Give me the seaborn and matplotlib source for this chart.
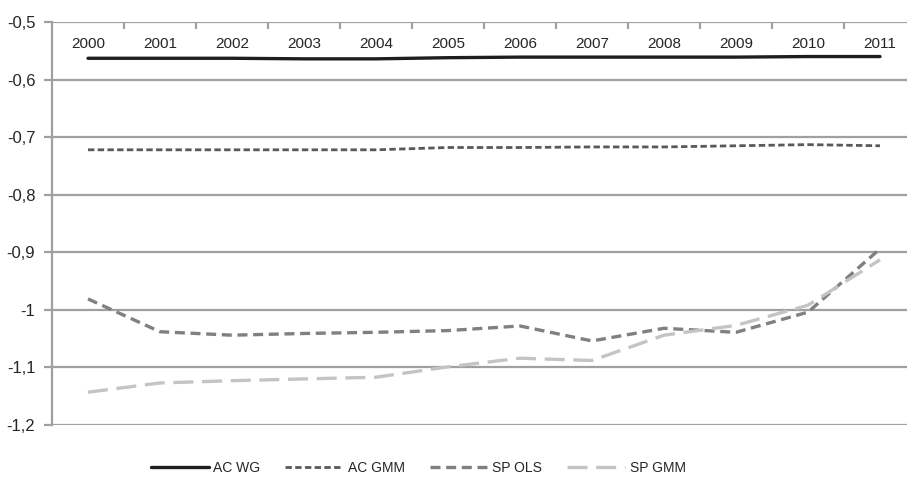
import matplotlib
matplotlib.use("Agg")
import matplotlib.pyplot as plt
import seaborn as sns
import pandas as pd
from matplotlib import font_manager as fm

years = ["2000", "2001", "2002", "2003", "2004", "2005", "2006", "2007", "2008", "2009", "2010", "2011"]
ac_wg = [-0.563, -0.563, -0.563, -0.564, -0.564, -0.562, -0.561, -0.561, -0.561, -0.561, -0.560, -0.560]
ac_gmm = [-0.722, -0.722, -0.722, -0.722, -0.722, -0.718, -0.718, -0.717, -0.717, -0.715, -0.713, -0.715]
sp_ols = [-0.981, -1.038, -1.044, -1.041, -1.039, -1.036, -1.028, -1.054, -1.032, -1.039, -1.004, -0.894]
sp_gmm = [-1.143, -1.127, -1.123, -1.120, -1.117, -1.099, -1.084, -1.088, -1.044, -1.027, -0.992, -0.913]
series_names = ["AC WG", "AC GMM", "SP OLS", "SP GMM"]
yticks = [-1.2, -1.1, -1.0, -0.9, -0.8, -0.7, -0.6, -0.5]

sns.set_style("white")
names = {f.name for f in fm.fontManager.ttflist}
fam = [f for f in ["Liberation Sans Narrow", "Liberation Sans", "DejaVu Sans"] if f in names]
plt.rcParams["font.family"] = fam

fig = plt.figure(figsize=(9.07, 4.79), dpi=100)
ax = fig.add_axes([52/907, 54/479, 864/907, 403/479])

styles = [
    dict(color="#1e1e1e", lw=2.4, ls="-"),
    dict(color="#595959", lw=2.0, ls=(0, (2.3, 1.2))),
    dict(color="#808080", lw=2.4, ls=(0, (3.0, 1.7))),
    dict(color="#c4c4c4", lw=2.4, ls=(0, (6.0, 2.6))),
]
xs = list(range(len(years)))
for name, vals, st in zip(series_names, [ac_wg, ac_gmm, sp_ols, sp_gmm], styles):
    df = pd.DataFrame({"x": xs, "y": vals})
    sns.lineplot(data=df, x="x", y="y", ax=ax, color=st["color"], lw=st["lw"],
                 linestyle=st["ls"], label=name, legend=False)

ax.set_xlim(-0.5, 11.5)
ax.set_ylim(-1.2, -0.5)
ax.set_yticks(yticks)
ax.set_yticklabels([f"{v:.1f}".replace(".", ",").replace("-1,0", "-1") for v in yticks], fontsize=12)
for v in yticks:
    ax.axhline(v, color="#a0a0a0", lw=1.6, zorder=0)

ax.set_xticks([i + 0.5 for i in range(11)], minor=False)
ax.set_xticklabels([])
ax.set_xticks(xs, minor=True)
ax.set_xticklabels(years, minor=True, fontsize=11)
ax.tick_params(axis="x", which="major", top=True, bottom=False, direction="in", length=5,
               color="#a0a0a0", width=1.6)
ax.tick_params(axis="x", which="minor", top=True, bottom=False, labeltop=True, labelbottom=False,
               length=0, pad=-21)
ax.tick_params(axis="y", direction="out", length=6, color="#a0a0a0", width=1.6, pad=6, left=True)
ax.set_xlabel("")
ax.set_ylabel("")
for s in ["top", "right", "bottom"]:
    ax.spines[s].set_visible(False)
ax.spines["left"].set_color("#a0a0a0")
ax.spines["left"].set_linewidth(1.6)

handles, labels = ax.get_legend_handles_labels()
fig.legend(handles, labels, loc="center", bbox_to_anchor=(418/907, 1 - 468/479), ncol=4,
           frameon=False, fontsize=10, handlelength=4.2, columnspacing=1.8, handletextpad=0.3)

fig.savefig("out.png", dpi=100)
